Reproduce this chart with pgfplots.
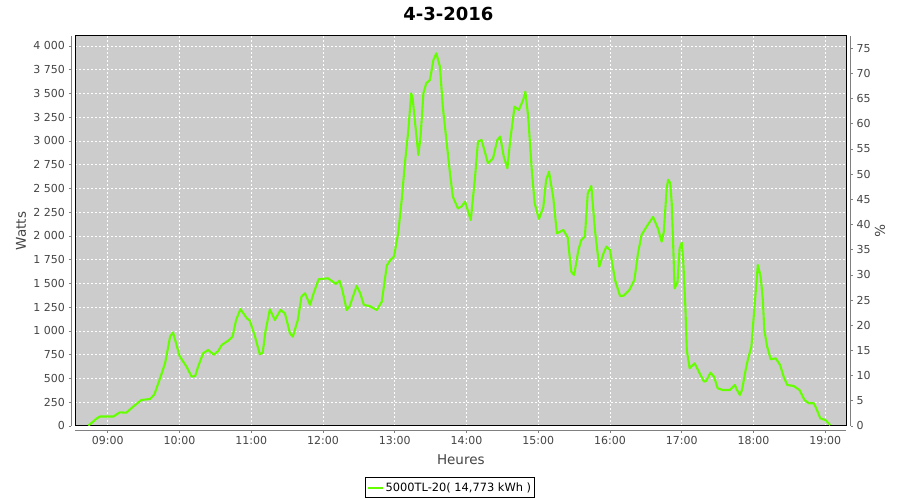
\documentclass[border=0pt]{standalone}
\usepackage{pgfplots}
\pgfplotsset{compat=1.18}
\usepackage{pgfplotstable}
\usepackage{fontspec}
\setmainfont{DejaVu Sans}

\definecolor{plotbg}{RGB}{204,204,204}
\definecolor{series}{RGB}{102,255,0}
\definecolor{axisgray}{RGB}{128,128,128}
\definecolor{labelgray}{RGB}{68,68,68}

% time in decimal hours, power in W
\pgfplotstableread{
t w
8.73 5
8.78 35
8.84 75
8.89 100
9.00 100
9.08 100
9.13 125
9.17 144
9.26 140
9.35 200
9.47 274
9.59 284
9.65 330
9.72 480
9.80 660
9.87 940
9.91 985
9.95 880
10.00 740
10.05 680
10.10 624
10.17 520
10.22 526
10.26 624
10.33 765
10.40 800
10.48 750
10.54 790
10.59 853
10.68 898
10.74 940
10.79 1116
10.85 1230
10.94 1133
10.98 1110
11.05 950
11.12 755
11.16 770
11.20 1000
11.26 1228
11.33 1116
11.41 1221
11.47 1186
11.54 976
11.58 940
11.65 1116
11.70 1361
11.75 1397
11.82 1274
11.87 1397
11.94 1544
12.07 1555
12.18 1495
12.23 1530
12.27 1432
12.33 1221
12.37 1256
12.47 1474
12.52 1397
12.57 1274
12.65 1263
12.75 1221
12.82 1308
12.89 1690
12.94 1747
12.99 1782
13.05 2040
13.10 2400
13.14 2750
13.19 3116
13.23 3502
13.25 3450
13.28 3221
13.33 2853
13.36 3046
13.40 3502
13.44 3607
13.49 3642
13.54 3853
13.58 3923
13.63 3782
13.67 3361
13.72 3011
13.77 2660
13.81 2414
13.88 2291
13.93 2309
13.98 2361
14.06 2168
14.12 2624
14.16 2993
14.21 3011
14.30 2765
14.37 2818
14.43 3011
14.47 3046
14.52 2835
14.57 2712
14.61 3011
14.67 3361
14.73 3326
14.79 3432
14.82 3519
14.86 3256
14.91 2695
14.95 2344
15.01 2180
15.07 2300
15.11 2589
15.15 2677
15.21 2400
15.26 2028
15.35 2063
15.41 1986
15.46 1624
15.50 1589
15.56 1853
15.60 1958
15.65 1993
15.69 2449
15.74 2526
15.79 2063
15.85 1677
15.91 1818
15.95 1888
16.00 1853
16.07 1537
16.14 1368
16.19 1372
16.27 1432
16.34 1537
16.39 1818
16.44 2011
16.51 2098
16.60 2200
16.67 2075
16.72 1940
16.75 2045
16.79 2500
16.81 2593
16.84 2558
16.86 2344
16.88 1920
16.90 1449
16.94 1510
16.97 1870
17.00 1930
17.02 1747
17.05 1260
17.07 800
17.11 607
17.18 660
17.25 554
17.31 467
17.34 474
17.40 561
17.45 519
17.50 397
17.57 379
17.67 379
17.74 432
17.77 379
17.81 326
17.84 379
17.89 589
17.92 695
17.97 835
18.01 1221
18.04 1502
18.06 1695
18.10 1572
18.13 1326
18.15 1011
18.19 835
18.24 702
18.31 712
18.37 642
18.42 519
18.47 432
18.56 421
18.64 379
18.71 274
18.77 239
18.84 239
18.88 176
18.93 81
19.00 63
19.07 10
}\power

\pgfplotsset{
  plotframe/.style={
    at={(75.3pt,74pt)}, anchor=south west,
    scale only axis, width=771pt, height=390.3pt,
    xmin=8.549, xmax=19.293,
    xtick={9,10,...,19},
  },
  grayaxis/.style={
    axis line style={axisgray, line width=0.8pt, -},
    tick style={axisgray, line width=0.8pt},
    tick align=outside, major tick length=2.5pt,
    tick label style={labelgray, font=\fontsize{11}{13}\selectfont},
  },
}

\begin{document}
\begin{tikzpicture}
\useasboundingbox (0pt,0pt) rectangle (900pt,500pt);

% plot area, grid and the curve
\begin{axis}[plotframe,
  ymin=0, ymax=4108,
  ytick={0,250,...,4000},
  xticklabels={}, yticklabels={},
  major tick length=0pt,
  axis background/.style={fill=plotbg},
  axis line style={black, line width=1pt},
  grid=major,
  major grid style={white, dash pattern=on 2pt off 2pt, line width=0.8pt},
  legend style={at={(0.4858,-0.1583)}, anchor=center,
    draw=black, line width=0.8pt, fill=white,
    font=\fontsize{11.4}{13}\selectfont,
    inner xsep=1.8pt, inner ysep=3.5pt, nodes={inner sep=1.5pt}},
  legend image code/.code={\draw[#1] (0pt,0pt) -- (15pt,0pt);},
]
\addplot[series, line width=2.1pt, line join=round] table[x=t, y=w] {\power};
\addlegendentry{5000TL-20( 14,773 kWh )}
\end{axis}

% left and bottom axes
\begin{axis}[plotframe, grayaxis,
  ymin=0, ymax=4108,
  axis x line*=bottom, axis y line*=left,
  axis x line shift=4.3pt, axis y line shift=4.3pt,
  xticklabels={09:00,10:00,11:00,12:00,13:00,14:00,15:00,16:00,17:00,18:00,19:00},
  ytick={0,250,...,4000},
  yticklabels={0,250,500,750,{1 000},{1 250},{1 500},{1 750},{2 000},{2 250},{2 500},{2 750},{3 000},{3 250},{3 500},{3 750},{4 000}},
]
\end{axis}

% right axis
\begin{axis}[plotframe, grayaxis,
  ymin=0, ymax=77.5,
  hide x axis,
  axis y line*=right, axis y line shift=4.2pt,
  ytick={0,5,...,75},
  yticklabels={0,5,10,15,20,25,30,35,40,45,50,55,60,65,70,75},
]
\end{axis}

\node[font=\bfseries\fontsize{18}{20}\selectfont] at (448.3pt,486.3pt) {4-3-2016};
\node[labelgray, font=\fontsize{13.5}{15}\selectfont] at (460.8pt,40pt) {Heures};
\node[labelgray, font=\fontsize{13.5}{15}\selectfont, rotate=90] at (21pt,269pt) {Watts};
\node[labelgray, font=\fontsize{13.5}{15}\selectfont, rotate=-90] at (880pt,269pt) {\%};
\end{tikzpicture}
\end{document}
